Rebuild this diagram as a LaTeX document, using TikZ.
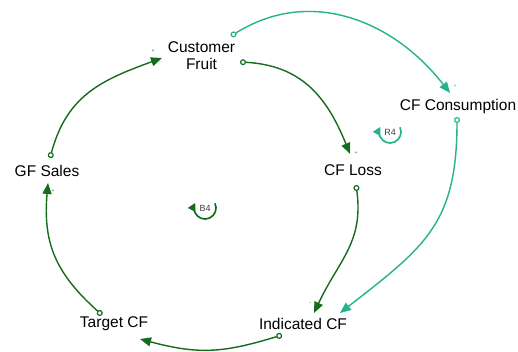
\documentclass[tikz,border=0pt]{standalone}
\usepackage{fontspec}
\setmainfont{Liberation Sans}
\usetikzlibrary{arrows.meta,calc}
\definecolor{dgreen}{RGB}{22,108,28}
\definecolor{teal2}{RGB}{36,178,140}
\begin{document}
\begin{tikzpicture}[x=1pt,y=1pt,
  var/.style={font=\fontsize{15.5}{17}\selectfont, align=center, inner sep=1pt},
  lnk/.style={line width=1.4pt, {Circle[open,length=6pt,width=6pt,line width=1.2pt]}-{Triangle[length=11pt,width=9pt]}},
  gl/.style={lnk, draw=dgreen},
  tl/.style={lnk, draw=teal2},
  pol/.style={font=\fontsize{5}{5}\selectfont, inner sep=0pt},
  loopmark/.style={line width=1.7pt, -{Triangle[length=8pt,width=8pt]}},
  looplab/.style={font=\fontsize{9}{10}\selectfont, text=black!75, inner sep=0pt}]
\useasboundingbox (0,0) rectangle (518,-351);
% variables
\node[var] (cf) at (201.5,-56) {Customer\\Fruit};
\node[var] (cons) at (458,-106) {CF Consumption};
\node[var] (loss) at (353,-170) {CF Loss};
\node[var] (gf) at (47,-171) {GF Sales};
\node[var] (tcf) at (114,-324) {Target CF};
\node[var] (icf) at (303,-324) {Indicated CF};
% ports
\coordinate (cf-o1) at (240,-62);
\coordinate (cf-o2) at (231,-36);
\coordinate (cf-i) at (162,-58);
\coordinate (loss-i) at (350,-154);
\coordinate (loss-o) at (356,-185);
\coordinate (icf-i1) at (314,-313);
\coordinate (icf-i2) at (340,-313);
\coordinate (icf-o) at (282,-335);
\coordinate (tcf-i) at (140,-339);
\coordinate (tcf-o) at (102,-315);
\coordinate (gf-i) at (48,-183);
\coordinate (gf-o) at (50,-158);
\coordinate (cons-i) at (450,-93);
\coordinate (cons-o) at (457,-117);
% links
\draw[gl] (cf-o1) to[out=-3,in=112,looseness=1.1] (loss-i);
\draw[gl] (loss-o) to[out=-82,in=65,looseness=1.1] (icf-i1);
\draw[gl] (icf-o) to[out=197,in=-15,looseness=1.1] (tcf-i);
\draw[gl] (tcf-o) to[out=138,in=-95,looseness=1.1] (gf-i);
\draw[gl] (gf-o) to[out=75,in=200,looseness=1.1] (cf-i);
\draw[tl] (cf-o2) to[out=32,in=128,looseness=1.05] (cons-i);
\draw[tl] (cons-o) to[out=-90,in=38,looseness=1.2] (icf-i2);
% polarities
\node[pol, text=dgreen] (p1) at (153,-51) {+};
\node[pol, text=dgreen] (p2) at (356,-153) {+};
\node[pol, text=teal2] (p3) at (455,-86) {+};
\node[pol, text=dgreen] (p4) at (310,-304) {-};
\node[pol, text=dgreen] (p5) at (53,-191) {+};
% loop markers
\node[looplab] (b4) at (205,-208) {B4};
\draw[loopmark, draw=dgreen] ($(b4)+(25:11)$) arc[start angle=25, end angle=-208, radius=11];
\node[looplab] (r4) at (390,-132) {R4};
\draw[loopmark, draw=teal2] ($(r4)+(25:11)$) arc[start angle=25, end angle=-208, radius=11];
\end{tikzpicture}
\end{document}
